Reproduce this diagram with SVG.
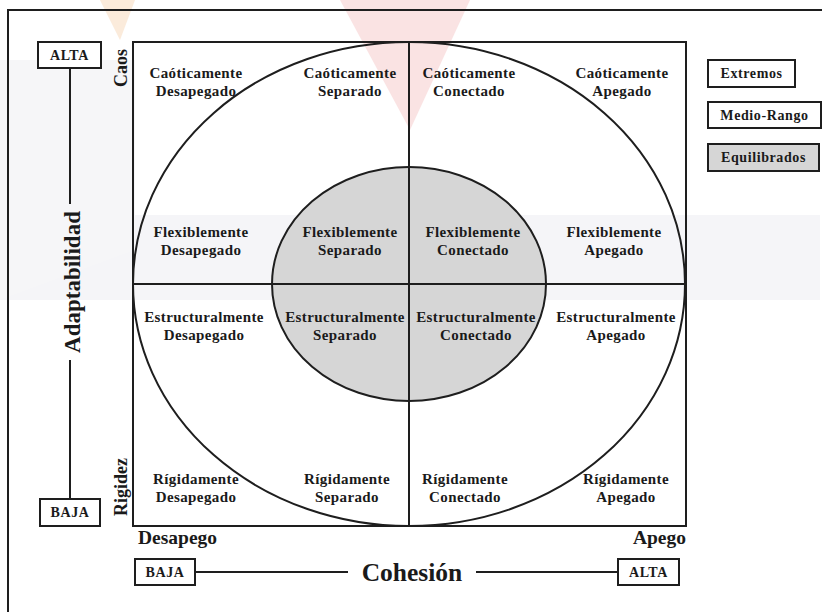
<svg xmlns="http://www.w3.org/2000/svg" width="822" height="612" viewBox="0 0 822 612">
<style>
.ln{stroke:#1e1e1e;stroke-width:2;fill:none}
.box{stroke:#1e1e1e;stroke-width:2;fill:#ffffff}
.q{font-family:"Liberation Serif","Times New Roman",serif;font-weight:bold;font-size:15px;letter-spacing:0.4px;fill:#1a1a1a;text-anchor:middle}
.s{font-family:"Liberation Serif","Times New Roman",serif;font-weight:bold;font-size:14px;letter-spacing:0.6px;fill:#1a1a1a;text-anchor:middle}
.ax{font-family:"Liberation Serif","Times New Roman",serif;font-weight:bold;fill:#1a1a1a}
</style>
<rect width="822" height="612" fill="#ffffff"/>
<g id="watermark" opacity="0.5">
<polygon points="0,250 120,215 820,215 820,300 0,300" fill="#ececf2"/>
<polygon points="0,60 135,60 135,250 0,300" fill="#eeeef3"/>
<polygon points="340,0 470,0 410,130" fill="#f7c9c9"/>
<polygon points="100,0 135,0 120,40" fill="#f8d8b8"/>
</g>
<g id="frame">
<polyline class="ln" points="8,612 8,10 822,10"/>
</g>
<g id="quadrant">
<rect class="ln" x="133" y="42" width="553" height="484"/>
<ellipse class="ln" cx="409" cy="284" rx="276" ry="242"/>
<ellipse cx="409" cy="284" rx="137" ry="117" fill="#d6d6d6" stroke="#1e1e1e" stroke-width="2"/>
</g>
<g id="connectors">
<line class="ln" x1="409" y1="42" x2="409" y2="526"/>
<line class="ln" x1="133" y1="284" x2="686" y2="284"/>
<line class="ln" x1="70" y1="68" x2="70" y2="204"/>
<line class="ln" x1="70" y1="360" x2="70" y2="499"/>
<line class="ln" x1="195" y1="572" x2="348" y2="572"/>
<line class="ln" x1="476" y1="572" x2="618" y2="572"/>
</g>
<g id="axis-adapt">
<text class="ax" font-size="23" transform="translate(80,282) rotate(-90)" text-anchor="middle">Adaptabilidad</text>
<text class="ax" font-size="18" transform="translate(127,68) rotate(-90)" text-anchor="middle">Caos</text>
<text class="ax" font-size="18" transform="translate(127,487) rotate(-90)" text-anchor="middle">Rigidez</text>
</g>
<g id="alta-v"><rect class="box" x="38" y="42" width="63" height="26"/><text class="s" x="69.5" y="60">ALTA</text></g>
<g id="baja-v"><rect class="box" x="40" y="499" width="60" height="27"/><text class="s" x="70" y="517">BAJA</text></g>
<g id="axis-coh">
<text class="ax" font-size="19.5" x="138" y="544">Desapego</text>
<text class="ax" font-size="19.5" x="686" y="544" text-anchor="end">Apego</text>
<text class="ax" font-size="25.5" x="412" y="581" text-anchor="middle">Cohesión</text>
</g>
<g id="baja-h"><rect class="box" x="135" y="559" width="60" height="26"/><text class="s" x="165" y="577">BAJA</text></g>
<g id="alta-h"><rect class="box" x="618" y="559" width="61" height="26"/><text class="s" x="648.5" y="577">ALTA</text></g>
<g id="legend-extremos"><rect class="box" x="708" y="60" width="87" height="27"/><text class="s" x="751.5" y="78">Extremos</text></g>
<g id="legend-medio"><rect class="box" x="708" y="102" width="113" height="26" fill="#f6f6f6"/><text class="s" x="764.5" y="120">Medio-Rango</text></g>
<g id="legend-equil"><rect x="708" y="144" width="111" height="27" fill="#d6d6d6" stroke="#1e1e1e" stroke-width="2"/><text class="s" x="763.5" y="162">Equilibrados</text></g>
<g id="caot-desap"><text class="q" x="196" y="78">Caóticamente</text><text class="q" x="196" y="96">Desapegado</text></g>
<g id="caot-sep"><text class="q" x="350" y="78">Caóticamente</text><text class="q" x="350" y="96">Separado</text></g>
<g id="caot-con"><text class="q" x="469" y="78">Caóticamente</text><text class="q" x="469" y="96">Conectado</text></g>
<g id="caot-ape"><text class="q" x="622" y="78">Caóticamente</text><text class="q" x="622" y="96">Apegado</text></g>
<g id="flex-desap"><text class="q" x="201" y="237">Flexiblemente</text><text class="q" x="201" y="255">Desapegado</text></g>
<g id="flex-sep"><text class="q" x="350" y="237">Flexiblemente</text><text class="q" x="350" y="255">Separado</text></g>
<g id="flex-con"><text class="q" x="473" y="237">Flexiblemente</text><text class="q" x="473" y="255">Conectado</text></g>
<g id="flex-ape"><text class="q" x="614" y="237">Flexiblemente</text><text class="q" x="614" y="255">Apegado</text></g>
<g id="estr-desap"><text class="q" x="204" y="322">Estructuralmente</text><text class="q" x="204" y="340">Desapegado</text></g>
<g id="estr-sep"><text class="q" x="345" y="322">Estructuralmente</text><text class="q" x="345" y="340">Separado</text></g>
<g id="estr-con"><text class="q" x="476" y="322">Estructuralmente</text><text class="q" x="476" y="340">Conectado</text></g>
<g id="estr-ape"><text class="q" x="616" y="322">Estructuralmente</text><text class="q" x="616" y="340">Apegado</text></g>
<g id="rig-desap"><text class="q" x="196" y="484">Rígidamente</text><text class="q" x="196" y="502">Desapegado</text></g>
<g id="rig-sep"><text class="q" x="347" y="484">Rígidamente</text><text class="q" x="347" y="502">Separado</text></g>
<g id="rig-con"><text class="q" x="465" y="484">Rígidamente</text><text class="q" x="465" y="502">Conectado</text></g>
<g id="rig-ape"><text class="q" x="626" y="484">Rígidamente</text><text class="q" x="626" y="502">Apegado</text></g>
</svg>
